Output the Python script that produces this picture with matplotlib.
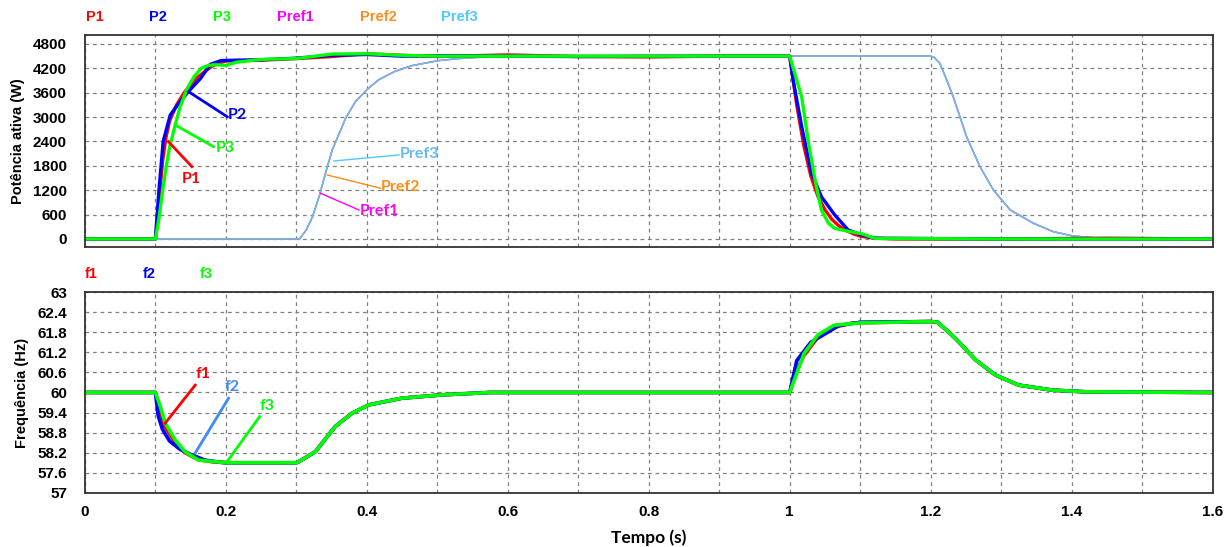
import matplotlib
matplotlib.use("Agg")
import matplotlib.pyplot as plt

# ---- potencia ativa (W) ----
t_p1 = [0, 0.1, 0.105, 0.11, 0.115, 0.12, 0.13, 0.14, 0.15, 0.16, 0.17, 0.18, 0.19, 0.2, 0.25, 0.3,
        0.35, 0.4, 0.45, 0.5, 0.6, 0.7, 0.8, 0.9, 1.0, 1.01, 1.02, 1.03, 1.04, 1.05, 1.06, 1.07,
        1.08, 1.09, 1.1, 1.12, 1.15, 1.3, 1.45, 1.6]
p1 = [0, 0, 900, 1900, 2500, 2900, 3300, 3580, 3800, 3980, 4120, 4250, 4330, 4380, 4400, 4440,
      4490, 4560, 4520, 4490, 4530, 4490, 4480, 4500, 4500, 3300, 2300, 1550, 1050, 720, 480, 320,
      210, 130, 70, 20, 0, 0, 20, 0]

t_p2 = [0, 0.1, 0.105, 0.111, 0.121, 0.135, 0.149, 0.164, 0.178, 0.193, 0.212, 0.25, 0.3,
        0.35, 0.4, 0.45, 0.5, 0.6, 0.7, 0.8, 0.9, 1.0, 1.005, 1.017, 1.031, 1.045, 1.064, 1.083,
        1.102, 1.12, 1.3, 1.6]
p2 = [0, 0, 1200, 2400, 3050, 3380, 3670, 3950, 4300, 4390, 4400, 4410, 4450,
      4520, 4540, 4500, 4510, 4500, 4490, 4500, 4500, 4500, 3900, 2770, 1620, 1040, 590, 220,
      100, 20, 0, 0]

t_p3 = [0, 0.1, 0.105, 0.11, 0.115, 0.12, 0.128, 0.135, 0.145, 0.155, 0.165, 0.175, 0.185, 0.2,
        0.215, 0.25, 0.3, 0.35, 0.4, 0.45, 0.5, 0.6, 0.7, 0.8, 0.9, 1.0, 1.017, 1.026, 1.036,
        1.045, 1.055, 1.064, 1.083, 1.102, 1.121, 1.3, 1.6]
p3 = [0, 0, 500, 1150, 1750, 2250, 2800, 3250, 3700, 4000, 4200, 4270, 4290, 4270,
      4350, 4420, 4440, 4550, 4560, 4520, 4500, 4500, 4500, 4500, 4500, 4500, 3500, 2440, 1450,
      710, 390, 260, 190, 130, 15, 0, 0]

t_pref = [0, 0.3045, 0.314, 0.323, 0.333, 0.342, 0.351, 0.361, 0.370, 0.384, 0.4, 0.417, 0.44,
          0.464, 0.501, 0.539, 0.6, 0.7, 1.2, 1.205, 1.213, 1.222, 1.232, 1.251, 1.27, 1.289,
          1.313, 1.346, 1.374, 1.402, 1.44, 1.5, 1.6]
pref = [0, 0, 222, 551, 1085, 1660, 2195, 2605, 2975, 3386, 3674, 3921, 4126,
        4266, 4389, 4455, 4500, 4500, 4500, 4470, 4324, 3950, 3503, 2518, 1780, 1206,
        714, 386, 180, 74, 17, 0, 0]

# ---- frequencia (Hz) ----
t_f1 = [0, 0.1, 0.106, 0.113, 0.128, 0.142, 0.16, 0.18, 0.2, 0.3, 0.305, 0.327, 0.355, 0.379,
        0.403, 0.45, 0.508, 0.575, 1.0, 1.01, 1.02, 1.04, 1.063, 1.09, 1.2, 1.21, 1.235, 1.264,
        1.292, 1.325, 1.373, 1.42, 1.6]
f1 = [60, 60, 59.5, 59.0, 58.5, 58.2, 58.0, 57.93, 57.9, 57.9, 57.95, 58.23, 58.98, 59.38,
      59.63, 59.83, 59.93, 60, 60, 60.65, 61.1, 61.65, 61.95, 62.08, 62.12, 62.1, 61.62, 60.97,
      60.52, 60.22, 60.07, 60.02, 60]

t_f2 = [0, 0.1, 0.104, 0.11, 0.12, 0.135, 0.15, 0.17, 0.19, 0.2, 0.3, 0.305, 0.327, 0.355, 0.379,
        0.403, 0.45, 0.508, 0.575, 1.0, 1.01, 1.03, 1.05, 1.07, 1.1, 1.2, 1.21, 1.235, 1.264,
        1.292, 1.325, 1.373, 1.42, 1.6]
f2 = [60, 60, 59.3, 58.9, 58.55, 58.3, 58.15, 57.98, 57.92, 57.9, 57.9, 57.95, 58.23, 58.98,
      59.38, 59.63, 59.83, 59.93, 60, 60, 60.95, 61.5, 61.75, 62.0, 62.1, 62.12, 62.1, 61.62,
      60.97, 60.52, 60.22, 60.07, 60.02, 60]

t_f3 = [0, 0.1, 0.107, 0.114, 0.128, 0.142, 0.161, 0.185, 0.2, 0.3, 0.305, 0.327, 0.355, 0.379,
        0.403, 0.45, 0.508, 0.575, 1.0, 1.0205, 1.04, 1.063, 1.1, 1.2, 1.21, 1.235, 1.264, 1.292,
        1.325, 1.373, 1.42, 1.6]
f3 = [60, 60, 59.58, 59.08, 58.58, 58.23, 57.98, 57.93, 57.9, 57.9, 57.95, 58.23, 58.98, 59.38,
      59.63, 59.83, 59.93, 60, 60, 61.17, 61.72, 62.01, 62.08, 62.12, 62.1, 61.62, 60.97, 60.52,
      60.22, 60.07, 60.02, 60]

RED, BLUE, GREEN = "#ff0000", "#0000ff", "#00ff00"
MAG, ORANGE, LBLUE = "#ff00ff", "#ff8c1a", "#4fc8ff"

plt.rcParams["font.family"] = ["Liberation Sans", "DejaVu Sans"]
plt.rcParams["font.weight"] = "bold"
ann_font = ["Lato", "DejaVu Sans"]

fig = plt.figure(figsize=(12.31, 5.47), dpi=100)
ax1 = fig.add_axes([0.069, 0.549, 0.916, 0.387])
ax2 = fig.add_axes([0.069, 0.099, 0.916, 0.367])

for ax in (ax1, ax2):
    ax.set_xlim(0, 1.6)
    ax.set_xticks([0, 0.2, 0.4, 0.6, 0.8, 1.0, 1.2, 1.4, 1.6])
    ax.set_xticks([i / 10 for i in range(1, 16, 2)], minor=True)
    ax.grid(True, which="both", color="#808080", linestyle=(0, (3, 3)), linewidth=0.9)
    ax.tick_params(which="both", length=0, labelsize=11)
    ax.tick_params(axis="y", pad=13)
    ax.tick_params(axis="x", pad=9)
    for s in ax.spines.values():
        s.set_linewidth(1.3)
        s.set_color("#333333")

# top: potencia
ax1.plot(t_pref, pref, color=MAG, lw=1.1)
ax1.plot(t_pref, pref, color=ORANGE, lw=0.9)
ax1.plot(t_pref, pref, color=LBLUE, lw=1.0)
ax1.plot(t_p1, p1, color=RED, lw=2.4)
ax1.plot(t_p2, p2, color=BLUE, lw=2.4)
ax1.plot(t_p3, p3, color=GREEN, lw=2.4)
ax1.set_ylim(-190, 5020)
ax1.set_yticks(range(0, 4801, 600))
ax1.set_xticklabels([])
ax1.set_ylabel("Potência ativa (W)", fontsize=10.5, fontweight="bold")
ax1.yaxis.set_label_coords(-0.053, 0.5)

# annotations top
ax1.plot([0.147, 0.2017], [3626, 3011], color=BLUE, lw=2)
ax1.text(0.203, 3040, "P2", color=BLUE, fontsize=11.5, fontweight="bold", va="center", family=ann_font)
ax1.plot([0.128, 0.1825], [2806, 2272], color=GREEN, lw=2)
ax1.text(0.185, 2250, "P3", color=GREEN, fontsize=11.5, fontweight="bold", va="center", family=ann_font)
ax1.plot([0.1185, 0.1518], [2395, 1780], color=RED, lw=2)
ax1.text(0.1375, 1480, "P1", color=RED, fontsize=11.5, fontweight="bold", va="center", family=ann_font)
ax1.plot([0.3532, 0.4457], [1920, 2068], color=LBLUE, lw=1)
ax1.text(0.4467, 2090, "Pref3", color="#66b8ff", fontsize=11.5, fontweight="bold", va="center", family=ann_font)
ax1.plot([0.3438, 0.4196], [1575, 1248], color=ORANGE, lw=1)
ax1.text(0.4196, 1280, "Pref2", color=ORANGE, fontsize=11.5, fontweight="bold", va="center", family=ann_font)
ax1.plot([0.3343, 0.3888], [1125, 714], color=MAG, lw=1)
ax1.text(0.3902, 690, "Pref1", color=MAG, fontsize=11.5, fontweight="bold", va="center", family=ann_font)

# bottom: frequencia
ax2.plot(t_f1, f1, color=RED, lw=2.6)
ax2.plot(t_f2, f2, color=BLUE, lw=2.6)
ax2.plot(t_f3, f3, color=GREEN, lw=2.6)
ax2.set_ylim(57, 63)
ax2.set_yticks([57, 57.6, 58.2, 58.8, 59.4, 60, 60.6, 61.2, 61.8, 62.4, 63])
ax2.set_yticklabels(["57", "57.6", "58.2", "58.8", "59.4", "60", "60.6", "61.2", "61.8", "62.4", "63"])
ax2.set_xticklabels(["0", "0.2", "0.4", "0.6", "0.8", "1", "1.2", "1.4", "1.6"])
for ax in (ax1, ax2):
    for lab in ax.get_xticklabels() + ax.get_yticklabels():
        lab.set_fontweight("bold")
ax2.set_ylabel("Frequência (Hz)", fontsize=10.5, fontweight="bold")
ax2.yaxis.set_label_coords(-0.050, 0.5)
ax2.set_xlabel("Tempo (s)", fontsize=12.5, fontweight="bold", family=ann_font, labelpad=7)

ax2.plot([0.1138, 0.1565], [59.08, 60.22], color=RED, lw=2)
ax2.text(0.1674, 60.54, "f1", color=RED, fontsize=11.5, fontweight="bold", va="center", ha="center", family=ann_font)
ax2.plot([0.1565, 0.2038], [58.19, 59.83], color="#3d8bff", lw=2)
ax2.text(0.2087, 60.17, "f2", color="#3d8bff", fontsize=11.5, fontweight="bold", va="center", ha="center", family=ann_font)
ax2.plot([0.2015, 0.248], [57.93, 59.28], color=GREEN, lw=2)
ax2.text(0.2584, 59.61, "f3", color=GREEN, fontsize=11.5, fontweight="bold", va="center", ha="center", family=ann_font)

# series labels above axes
top_labels = [("P1", RED, 95), ("P2", BLUE, 158), ("P3", GREEN, 222),
              ("Pref1", MAG, 295), ("Pref2", ORANGE, 378), ("Pref3", LBLUE, 459)]
for name, col, px in top_labels:
    fig.text(px / 1231, 1 - 17 / 547, name, color=col, fontsize=10.5, fontweight="bold",
             ha="center", va="center")
bot_labels = [("f1", RED, 91), ("f2", BLUE, 149), ("f3", GREEN, 206)]
for name, col, px in bot_labels:
    fig.text(px / 1231, 1 - 274 / 547, name, color=col, fontsize=10.5, fontweight="bold",
             ha="center", va="center")

fig.savefig("out.png", dpi=100)
